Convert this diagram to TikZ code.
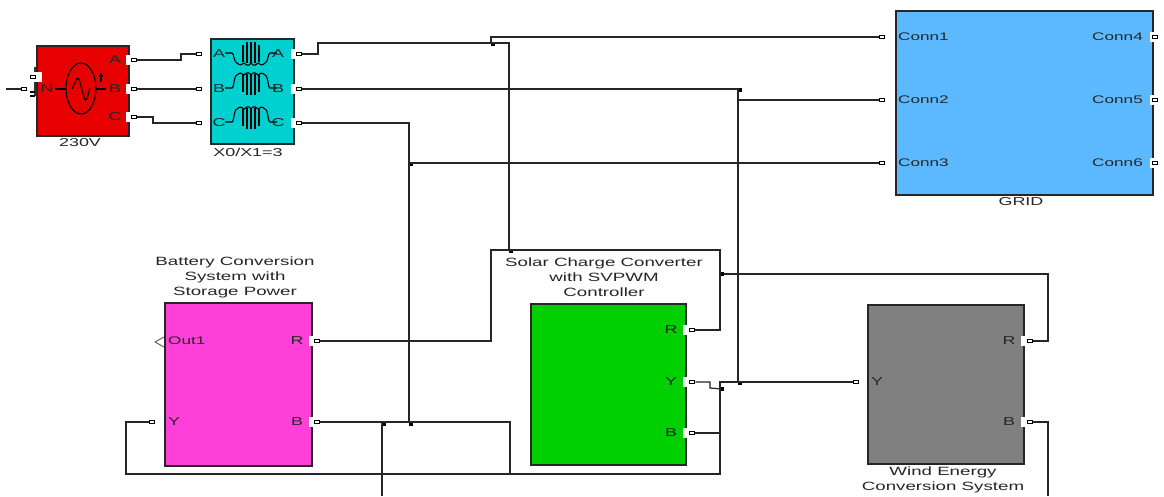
\documentclass[tikz,border=0pt]{standalone}
\usepackage{fontspec}
\setmainfont[FakeStretch=1.56]{Liberation Sans}
\definecolor{cred}{RGB}{230,0,0}
\definecolor{ccyan}{RGB}{0,208,208}
\definecolor{cblue}{RGB}{92,184,255}
\definecolor{cpink}{RGB}{255,64,216}
\definecolor{cgreen}{RGB}{0,208,0}
\definecolor{cgrey}{RGB}{128,128,128}
\begin{document}
\begin{tikzpicture}[x=1pt,y=-1pt,
  block/.style={draw=black!85,line width=1.5pt,inner sep=0pt,anchor=north west},
  wire/.style={draw=black!85,line width=1.25pt},
  port/.style={draw=black,fill=white,line width=1.6pt,minimum width=5pt,minimum height=3pt,inner sep=0pt},
  gap/.style={fill=white,draw=none,minimum width=4pt,minimum height=10pt,inner sep=0pt},
  jct/.style={fill=black,draw=none,minimum width=4.5pt,minimum height=3.5pt,inner sep=0pt},
  lbl/.style={font=\fontsize{11.5}{15}\selectfont,text=black!85,align=center,inner sep=0pt},
  captext/.style={lbl,font=\fontsize{12}{15}\selectfont},
  conn/.style={lbl,font=\fontsize{11}{15}\selectfont},
  sym/.style={draw=black,line width=1.1pt}]
\useasboundingbox (0,0) rectangle (1164,496);
\fill[white] (0,0) rectangle (1164,496);

% blocks
\node[block,fill=cred,minimum width=92pt,minimum height=90pt] (src) at (36,45) {};
\node[block,fill=ccyan,minimum width=83pt,minimum height=105pt] (trf) at (210,38) {};
\node[block,fill=cblue,minimum width=257pt,minimum height=184pt] (grid) at (895,10) {};
\node[block,fill=cpink,minimum width=147pt,minimum height=163pt] (bat) at (164,302) {};
\node[block,fill=cgreen,minimum width=155pt,minimum height=161pt] (sol) at (530,303) {};
\node[block,fill=cgrey,minimum width=156pt,minimum height=159pt] (wind) at (867,304) {};

% white gaps in block edges
\foreach \n/\x/\y in {ga/128/60,gb/128/89,gc/128/117,gd/293/54,ge/293/89,gf/293/123,
  gg/311/341,gh/311/422,gi/685/330,gj/685/382,gk/685/433,gl/1023/341,gm/1023/422,
  gn/1152/37,go/1152/100,gp/1152/163}
  \node[gap] (\n) at (\x,\y) {};
\node[gap,minimum width=9pt] (gq) at (37,77) {};

% ports
\foreach \n/\x/\y in {sA/134/60,sB/134/89,sC/134/117,sN/24/89,sG/33/77,
  tiA/199/54,tiB/199/89,tiC/199/123,toA/299/54,toB/299/89,toC/299/123,
  gi1/882/37,gi2/882/100,gi3/882/163,go4/1155/37,go5/1155/100,go6/1155/163,
  bR/317/341,bB/317/422,bY/152/422,
  pR/692/330,pY/692/382,pB/692/433,
  wY/856/382,wR/1030/341,wB/1030/422}
  \node[port] (\n) at (\x,\y) {};

% junctions and free ends
\node[jct] (j1) at (493,44) {};
\node[jct] (j2) at (740,90) {};
\node[jct] (j3) at (511,251) {};
\node[jct] (j4) at (722,274) {};
\node[jct] (j5) at (411,164) {};
\node[jct] (j6) at (384,424) {};
\node[jct] (j7) at (411,424) {};
\node[jct] (j8) at (740,383) {};
\node[jct] (j9) at (722,389) {};
\coordinate (nfree) at (6,89);
\coordinate (bfree) at (382,496);
\coordinate (wfree) at (1048,496);

% connectors
\draw[wire] (nfree) -- (sN);
\draw[wire] (sA) -- (181,60) -- (181,54) -- (tiA);
\draw[wire] (sB) -- (tiB);
\draw[wire] (sC) -- (153,117) -- (153,123) -- (tiC);
\draw[wire] (toA) -- (318,54) -- (318,43) -- (509,43) -- (509,251) -- (j3);
\draw[wire] (491,43) -- (491,37) -- (gi1);
\draw[wire] (toB) -- (738,89) -- (738,382);
\draw[wire] (738,100) -- (gi2);
\draw[wire] (toC) -- (409,123) -- (409,423);
\draw[wire] (409,163) -- (gi3);
\draw[wire] (bR) -- (491,341) -- (491,250) -- (720,250) -- (720,330) -- (pR);
\draw[wire] (720,274) -- (j4) -- (1048,274) -- (1048,341) -- (wR);
\draw[wire] (bB) -- (510,422) -- (510,474);
\draw[wire] (bY) -- (126,422) -- (126,474) -- (720,474) -- (720,382) -- (wY);
\draw[wire] (pY) -- (710,382) -- (710,388) -- (j9);
\draw[wire] (pB) -- (720,433);
\draw[wire] (382,422) -- (bfree);
\draw[wire] (wB) -- (1048,422) -- (wfree);

% source symbol
\draw[line width=2pt,black!80] (35,67) -- (35,72) (35,82) -- (35,96);
\draw[sym] (30,92) -- (35,92) (30,96) -- (35,96);
\draw[sym] (81,63) .. controls (72,63) and (66,76) .. (66,88.5) .. controls (66,101) and (72,114) .. (81,114)
  .. controls (90,114) and (96,101) .. (96,88.5) .. controls (96,76) and (90,63) .. (81,63);
\draw[sym] (55,89) -- (66,89) (96,89) -- (106,89);
\draw[sym,line join=round] (72,89) -- (77,78) -- (79,79) -- (85,100) -- (87,99) -- (90,88);
\draw[line width=1.3pt,black] (101,73) -- (101,82) (99,76) -- (103,76);

% transformer symbol: phase A hangs its coil below the lead wire, phases B and C above it
\begin{scope}[shift={(251,53)}]
  \draw[sym] (-26,0) -- (-19,0) .. controls (-17,0) and (-17,10) .. (-14,10)
    .. controls (-11,13) and (-9,12) .. (-7,10) .. controls (-4,13) and (-2,13) .. (0,10)
    .. controls (2,13) and (4,13) .. (7,10) .. controls (9,12) and (11,13) .. (14,10)
    .. controls (17,10) and (17,0) .. (19,0) -- (26,0);
  \draw[line width=1.5pt,black] (-8,-8) -- (-8,9) (-4,-11) -- (-4,10) (0,-11) -- (0,10) (4,-11) -- (4,10) (8,-8) -- (8,9);
\end{scope}
\foreach \yy in {88,122}{
  \begin{scope}[shift={(251,\yy)}]
  \draw[sym] (-26,0) -- (-19,0) .. controls (-17,0) and (-17,-13) .. (-14,-13)
    .. controls (-11,-16) and (-9,-15) .. (-7,-13) .. controls (-4,-16) and (-2,-16) .. (0,-13)
    .. controls (2,-16) and (4,-16) .. (7,-13) .. controls (9,-15) and (11,-16) .. (14,-13)
    .. controls (17,-13) and (17,0) .. (19,0) -- (26,0);
  \draw[line width=1.5pt,black] (-8,-13) -- (-8,4) (-4,-14) -- (-4,7) (0,-14) -- (0,7) (4,-14) -- (4,7) (8,-13) -- (8,4);
  \end{scope}
}

% labels inside blocks
\node[lbl] (sAl) at (115,60) {A};
\node[lbl] (sBl) at (115,89) {B};
\node[lbl] (sCl) at (115,117) {C};
\node[lbl] (sNl) at (47,89) {N};
\foreach \n/\t/\x/\y in {tA/A/219/54,tB/B/219/89,tC/C/219/123,tD/A/278/54,tE/B/278/89,tF/C/278/123}
  \node[lbl] (\n) at (\x,\y) {\t};
\node[conn,anchor=west] (c1) at (898,37) {Conn1};
\node[conn,anchor=west] (c2) at (898,100) {Conn2};
\node[conn,anchor=west] (c3) at (898,163) {Conn3};
\node[conn,anchor=east] (c4) at (1143,37) {Conn4};
\node[conn,anchor=east] (c5) at (1143,100) {Conn5};
\node[conn,anchor=east] (c6) at (1143,163) {Conn6};
\node[conn,anchor=west] (o1) at (168,341) {Out1};
\node[lbl] (bYl) at (174,422) {Y};
\node[lbl] (bRl) at (297,341) {R};
\node[lbl] (bBl) at (297,422) {B};
\node[lbl] (pRl) at (671,330) {R};
\node[lbl] (pYl) at (671,382) {Y};
\node[lbl] (pBl) at (671,433) {B};
\node[lbl] (wRl) at (1009,341) {R};
\node[lbl] (wBl) at (1009,422) {B};
\node[lbl] (wYl) at (877,382) {Y};

% out port triangle
\draw[black!70,line width=0.8pt] (164,337) -- (155,342) -- (164,347);

% captions
\node[lbl] (l230) at (80,143) {230V};
\node[lbl] (lx0) at (248,152) {X0/X1=3};
\node[lbl] (lgrid) at (1021,202) {GRID};
\node[captext] (lbat) at (235,277.5) {Battery Conversion\\System with\\Storage Power};
\node[captext] (lsol) at (604,277) {Solar Charge Converter\\with SVPWM\\Controller};
\node[captext] (lwind) at (943,479.5) {Wind Energy\\Conversion System};
\end{tikzpicture}
\end{document}
